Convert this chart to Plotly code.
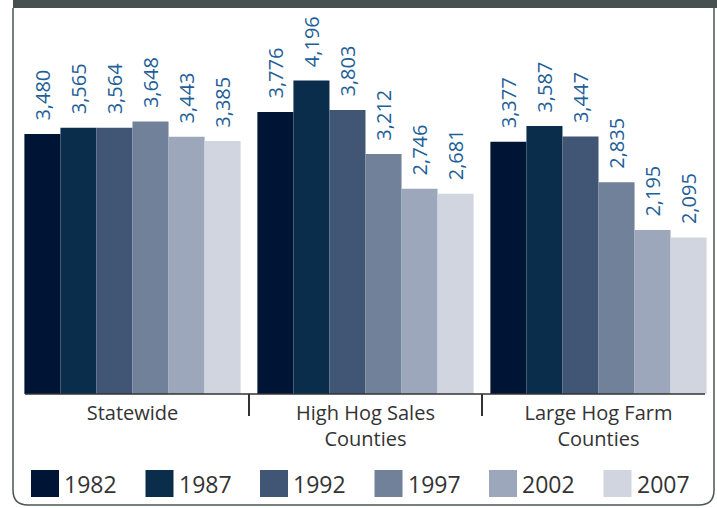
import plotly.graph_objects as go

categories = ['Statewide', 'High Hog Sales<br>Counties', 'Large Hog Farm<br>Counties']
years = ['1982', '1987', '1992', '1997', '2002', '2007']
values = {
    '1982': [3480, 3776, 3377],
    '1987': [3565, 4196, 3587],
    '1992': [3564, 3803, 3447],
    '1997': [3648, 3212, 2835],
    '2002': [3443, 2746, 2195],
    '2007': [3385, 2681, 2095],
}
colors = ['#001535', '#0a2d4c', '#415574', '#72819a', '#9ca7bb', '#d1d5df']

W, H = 717, 508
L, R, T, B = 16, 2, 8, 114
PW, PH = W - L - R, H - T - B


def px(x):
    return (x - L) / PW


def py(y):
    return (H - B - y) / PH


fig = go.Figure()
for year, color in zip(years, colors):
    # leading no-break spaces lift the label off the bar top
    fig.add_trace(go.Bar(
        x=[0, 1, 2], y=values[year], name=year, marker=dict(color=color, line=dict(width=0)),
        text=['\u00a0\u00a0' + f'{v:,}' for v in values[year]], textposition='outside', textangle=-90,
        constraintext='none', cliponaxis=False,
        textfont=dict(family='Open Sans', size=20, color='#1f5f98'),
    ))

shapes = []
# card frame and top band
shapes.append(dict(type='rect', xref='paper', yref='paper', x0=px(13), x1=px(717), y0=py(0), y1=py(8),
                   fillcolor='#45504f', line=dict(width=0), layer='above'))
frame = (f'M {px(13)},{py(8)} L {px(13)},{py(490)} Q {px(13)},{py(505)} {px(28)},{py(505)} '
         f'L {px(699)},{py(505)} Q {px(714)},{py(505)} {px(714)},{py(490)} L {px(714)},{py(8)}')
shapes.append(dict(type='path', xref='paper', yref='paper', path=frame, line=dict(color='#4b5554', width=1.5)))
# baseline under the bars only
shapes.append(dict(type='line', xref='paper', yref='paper', x0=px(25), x1=px(705), y0=0, y1=0,
                   line=dict(color='#333333', width=1.5)))
# category separators
for b in [0.5, 1.5]:
    shapes.append(dict(type='line', xref='x', yref='paper', x0=b, x1=b, y0=0, y1=py(416),
                       line=dict(color='#333333', width=2)))

# legend drawn by hand for the large swatches
annotations = []
for i, (year, color) in enumerate(zip(years, colors)):
    x0 = 31 + i * 114.5
    shapes.append(dict(type='rect', xref='paper', yref='paper', x0=px(x0), x1=px(x0 + 28),
                       y0=py(497), y1=py(470), fillcolor=color, line=dict(width=0)))
    annotations.append(dict(xref='paper', yref='paper', x=px(x0 + 31), y=py(484), text=year,
                            showarrow=False, xanchor='left', yanchor='middle',
                            font=dict(family='Open Sans', size=23, color='#333333')))

fig.update_layout(
    width=W, height=H,
    margin=dict(l=L, r=R, t=T, b=B),
    barmode='group', bargap=0.072, bargroupgap=0,
    showlegend=False,
    plot_bgcolor='white', paper_bgcolor='white',
    shapes=shapes, annotations=annotations,
    font=dict(family='Open Sans', color='#333333'),
    xaxis=dict(tickmode='array', tickvals=[0, 1, 2], ticktext=categories, range=[-0.5, 2.5],
               showline=False, ticks='', showgrid=False, zeroline=False, ticklabelstandoff=5,
               tickfont=dict(family='Open Sans', size=20, color='#333333')),
    yaxis=dict(range=[0, PH / 0.07471], visible=False, showgrid=False),
)

fig.write_html('out.html', config={'displayModeBar': False},
               post_script="document.body.style.margin='0px';")
